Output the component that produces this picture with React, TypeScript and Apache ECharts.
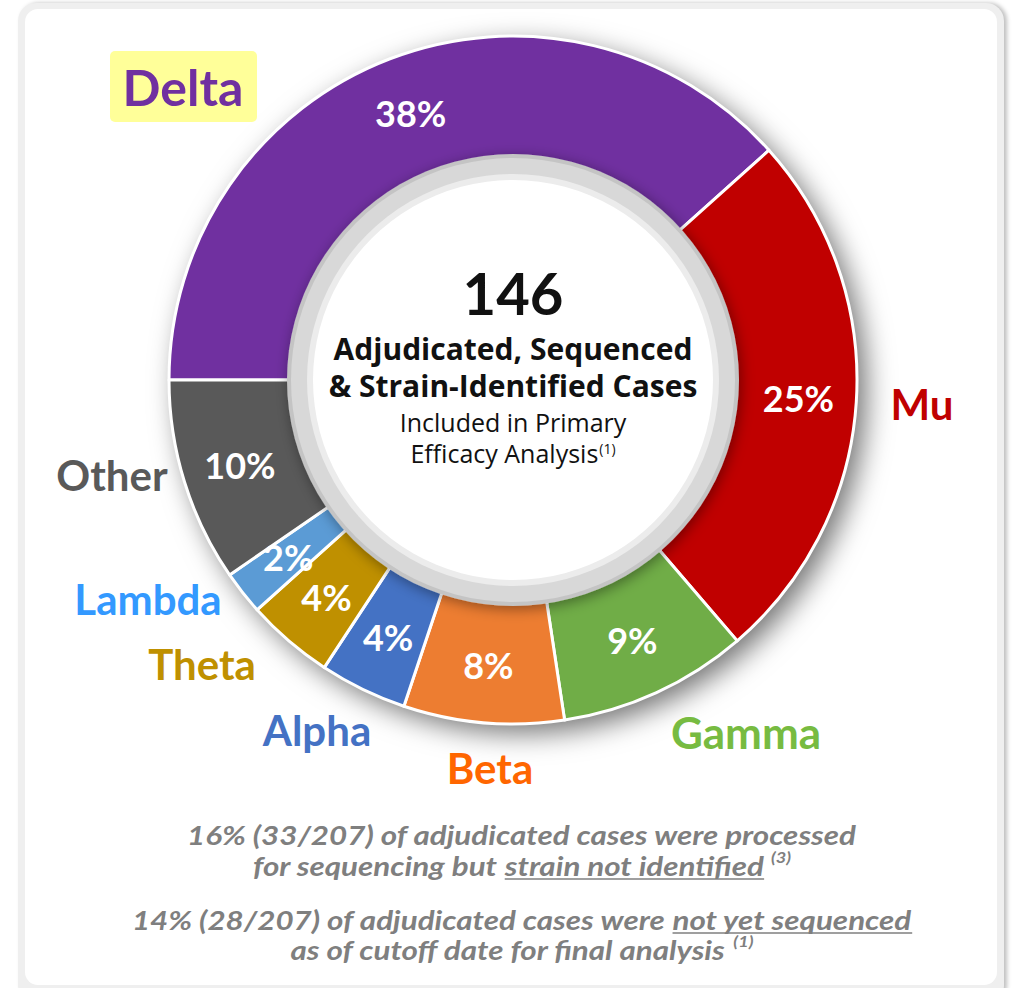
import React, { useEffect, useRef } from "react";
import * as echarts from "echarts";

// ---------- data ----------
const categories = ["Delta", "Mu", "Gamma", "Beta", "Alpha", "Theta", "Lambda", "Other"];
const caseCounts = [56, 37, 13, 11, 6, 6, 3, 14];
const totalCases = 146;

const centerLines = ["Adjudicated, Sequenced", "& Strain-Identified Cases"];
const centerSubLines = ["Included in Primary", "Efficacy Analysis"];
const centerSup = "(1)";

type Seg = { t: string; u?: boolean; sup?: boolean };
const footnoteLines: Seg[][] = [
  [{ t: "16% (33/207) of adjudicated cases were processed" }],
  [{ t: "for sequencing but " }, { t: "strain not identified", u: true }, { t: " " }, { t: "(3)", sup: true }],
  [{ t: "14% (28/207) of adjudicated cases were " }, { t: "not yet sequenced", u: true }],
  [{ t: "as of cutoff date for final analysis " }, { t: "(1)", sup: true }],
];

// ---------- styles / layout ----------
const FONT = "Lato, 'Open Sans', sans-serif";
const CFONT = "'Open Sans', Lato, sans-serif";
const sliceColors = ["#7030a0", "#c00000", "#70ad47", "#ed7d31", "#4472c4", "#bf9000", "#5b9bd5", "#595959"];
const nameColors = ["#7030a0", "#c00000", "#77bb41", "#ff6600", "#4472c4", "#bf9000", "#3399ff", "#595959"];
const nameAnchors: [number, number][] = [
  [183, 87], [922, 404], [746, 732], [490, 768], [317, 730], [202, 664], [148, 599], [112, 475],
];
const nameSizes = [50, 42, 44, 42, 42, 42, 42, 42];
const CX = 513;
const CY = 380;
const R_OUT = 344;
const R_IN = 222;

const measureCtx = (() => {
  const c = document.createElement("canvas");
  return c.getContext("2d") as CanvasRenderingContext2D;
})();
function tw(text: string, font: string) {
  measureCtx.font = font;
  return measureCtx.measureText(text).width;
}

function buildOption() {
  const graphic: any[] = [];

  // inner ring
  graphic.push({
    type: "circle", z: 10, silent: true,
    shape: { cx: CX, cy: CY, r: 226 },
    style: { fill: "#c4c4c4", shadowBlur: 14, shadowColor: "rgba(0,0,0,0.4)", shadowOffsetX: 2, shadowOffsetY: 3 },
  });
  graphic.push({ type: "circle", z: 11, silent: true, shape: { cx: CX, cy: CY, r: 222 }, style: { fill: "#d8d8d8" } });
  graphic.push({ type: "circle", z: 12, silent: true, shape: { cx: CX, cy: CY, r: 206 }, style: { fill: "#ececec" } });
  graphic.push({ type: "circle", z: 13, silent: true, shape: { cx: CX, cy: CY, r: 200 }, style: { fill: "#ffffff" } });

  const txt = (text: string, x: number, y: number, size: number, weight: string, color: string, align = "center", family = FONT) => ({
    type: "text", z: 20, silent: true, x, y,
    style: {
      text, fill: color, fontSize: size, fontWeight: weight, fontFamily: family,
      align, verticalAlign: "middle", textAlign: align, textVerticalAlign: "middle",
    },
  });

  // center texts
  graphic.push(txt(String(totalCases), CX, CY - 88, 58, "bold", "#111111"));
  graphic.push(txt(centerLines[0], CX, CY - 32, 30, "bold", "#111111", "center", CFONT));
  graphic.push(txt(centerLines[1], CX, CY + 5, 30, "bold", "#111111", "center", CFONT));
  graphic.push(txt(centerSubLines[0], CX, CY + 42, 25, "normal", "#111111", "center", CFONT));
  {
    const f1 = `normal 25px ${CFONT}`;
    const f2 = `normal 14px ${CFONT}`;
    const w1 = tw(centerSubLines[1], f1);
    const w2 = tw(centerSup, f2);
    const sx = CX - (w1 + w2 + 1) / 2;
    graphic.push(txt(centerSubLines[1], sx, CY + 73, 25, "normal", "#111111", "left", CFONT));
    graphic.push(txt(centerSup, sx + w1 + 1, CY + 68, 14, "normal", "#111111", "left", CFONT));
  }

  // Delta highlight box
  graphic.push({
    type: "rect", z: 15, silent: true,
    shape: { x: 110, y: 51, width: 147, height: 71, r: 5 },
    style: { fill: "#ffff99" },
  });

  // category names
  categories.forEach((c, i) => {
    graphic.push(txt(c, nameAnchors[i][0], nameAnchors[i][1], nameSizes[i], "bold", nameColors[i]));
  });

  // footnotes
  const FS = 26;
  const mainFont = `italic bold ${FS}px ${FONT}`;
  const supFont = `italic bold 15px ${FONT}`;
  const gray = "#7f7f7f";
  const lineYs = [835, 866, 920, 950];
  const FOOT_CX = 522;
  const scale = 670 / tw(footnoteLines[0][0].t, mainFont);
  footnoteLines.forEach((segs, li) => {
    let x = 0;
    const children: any[] = [];
    segs.forEach((s) => {
      const font = s.sup ? supFont : mainFont;
      const w = tw(s.t, font);
      children.push({
        type: "text", silent: true, x, y: s.sup ? -8 : 0,
        style: {
          text: s.t, fill: gray, fontSize: s.sup ? 15 : FS, fontWeight: "bold", fontStyle: "italic",
          fontFamily: FONT, align: "left", verticalAlign: "middle", textAlign: "left", textVerticalAlign: "middle",
        },
      });
      if (s.u) {
        children.push({
          type: "line", silent: true,
          shape: { x1: x, y1: 13, x2: x + w, y2: 13 },
          style: { stroke: gray, lineWidth: 1.6 },
        });
      }
      x += w;
    });
    graphic.push({
      type: "group", z: 20, x: FOOT_CX - (x * scale) / 2, y: lineYs[li], scaleX: scale, children,
    });
  });

  return {
    animation: false,
    series: [
      {
        type: "pie", z: 1, silent: true, center: [CX, CY], radius: [R_IN, R_OUT], startAngle: 180,
        label: { show: false }, labelLine: { show: false }, emphasis: { disabled: true },
        data: [{ value: 1, itemStyle: { color: "#ffffff", shadowBlur: 28, shadowColor: "rgba(0,0,0,0.55)", shadowOffsetX: 9, shadowOffsetY: 9 } }],
      },
      {
        type: "pie", z: 2, silent: true, center: [CX, CY], radius: [R_IN, R_OUT], startAngle: 180, clockwise: true,
        avoidLabelOverlap: false,
        itemStyle: { borderColor: "#ffffff", borderWidth: 3 },
        emphasis: { disabled: true },
        label: {
          show: true, position: "inside", color: "#ffffff", fontFamily: FONT, fontWeight: "bold", fontSize: 36,
          formatter: (p: any) => Math.round((p.value / totalCases) * 100) + "%",
        },
        labelLine: { show: false },
        data: categories.map((c, i) => ({ name: c, value: caseCounts[i], itemStyle: { color: sliceColors[i] } })),
      },
    ],
    graphic,
  };
}

export default function App() {
  const ref = useRef<HTMLDivElement>(null);
  useEffect(() => {
    const chart = echarts.init(ref.current as HTMLDivElement, null, { renderer: "svg" });
    chart.setOption(buildOption() as any);
    return () => chart.dispose();
  }, []);
  return (
    <div style={{ position: "absolute", left: 0, top: 0, width: 1012, height: 988, background: "#ffffff", overflow: "hidden" }}>
      <div style={{ position: "absolute", left: 18, top: 3, width: 986, height: 1000, background: "#efefef", borderRadius: 18, boxShadow: "3px 0 4px rgba(0,0,0,0.25)" }} />
      <div style={{ position: "absolute", left: 25, top: 9, width: 972, height: 976, background: "#ffffff", borderRadius: 13 }} />
      <div ref={ref} style={{ position: "absolute", left: 0, top: 0, width: 1012, height: 988 }} />
    </div>
  );
}
